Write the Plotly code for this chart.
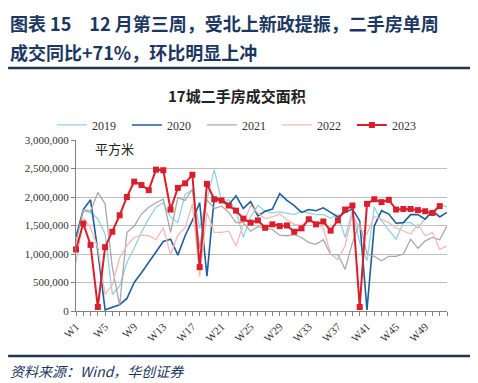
import plotly.graph_objects as go

weeks = list(range(1, 53))
tick_weeks = [1, 5, 9, 13, 17, 21, 25, 29, 33, 37, 41, 45, 49]
tick_labels = ["W%d" % w for w in tick_weeks]

s2019 = [1.30, 1.75, 1.73, 1.62, 1.35, 0.29, 0.44, 0.85, 1.10, 1.38, 1.62, 1.82, 1.90, 1.65,
         1.55, 2.05, 2.12, 1.45, 1.95, 2.48, 1.94, 1.95, 1.77, 1.29, 1.65, 1.85, 1.75, 1.72,
         1.74, 1.72, 1.69, 1.75, 1.72, 1.69, 1.69, 1.63, 1.69, 1.29, 1.76, 1.20, 0.88, 1.82,
         1.58, 1.43, 1.26, 1.55, 1.55, 1.46, 1.62, 1.73, 1.88, 1.82]
s2020 = [1.30, 1.78, 1.95, 1.05, 0.02, 0.06, 0.11, 0.22, 0.50, 0.67, 0.85, 1.02, 1.22, 1.26,
         0.98, 1.32, 1.59, 1.90, 0.61, 1.99, 1.95, 1.87, 2.02, 1.80, 1.92, 1.67, 1.75, 1.79,
         2.06, 1.94, 1.85, 1.73, 1.78, 1.76, 1.81, 1.73, 1.65, 1.73, 1.79, 1.58, 0.02, 1.49,
         1.76, 1.70, 1.54, 1.55, 1.69, 1.69, 1.61, 1.76, 1.65, 1.73]
s2021 = [1.20, 1.78, 1.75, 2.08, 1.88, 0.76, 0.10, 1.38, 1.49, 1.70, 1.82, 1.90, 1.96, 1.38,
         1.99, 1.94, 2.14, 1.10, 1.95, 1.80, 1.84, 1.73, 1.55, 1.55, 1.40, 1.48, 1.46, 1.43,
         1.33, 1.32, 1.34, 1.29, 1.20, 1.17, 1.25, 0.99, 0.99, 0.73, 1.20, 1.55, 1.00, 0.96,
         0.88, 0.96, 0.96, 1.00, 1.26, 1.10, 1.23, 1.29, 1.25, 1.49]
s2022 = [0.85, 1.64, 1.46, 1.11, 0.29, 0.46, 0.93, 1.15, 1.29, 1.33, 1.32, 1.25, 1.46, 0.99,
         1.33, 1.46, 1.88, 0.60, 1.73, 1.38, 1.38, 1.40, 1.14, 1.52, 1.85, 1.72, 1.62, 1.65,
         1.70, 1.60, 1.52, 1.50, 1.60, 1.55, 1.45, 1.00, 0.90, 1.15, 1.70, 1.45, 1.35, 1.66,
         1.61, 1.55, 1.46, 1.41, 1.35, 1.52, 1.32, 1.38, 1.08, 1.14]
s2023 = [1.08, 1.535, 1.16, 0.07, 1.12, 1.39, 1.68, 2.00, 2.27, 2.21, 2.12, 2.48, 2.47, 1.78,
         2.16, 2.24, 2.39, 0.77, 2.23, 1.96, 1.94, 1.85, 1.76, 1.62, 1.55, 1.59, 1.46, 1.52,
         1.49, 1.50, 1.39, 1.45, 1.61, 1.52, 1.57, 1.41, 1.59, 1.78, 1.85, 0.07, 1.88, 1.96,
         1.91, 1.95, 1.78, 1.79, 1.79, 1.77, 1.75, 1.72, 1.84]

MILLION = 1_000_000
series = [
    ("2019", s2019, "#96cfe2", 1.3),
    ("2020", s2020, "#1f5f9e", 1.6),
    ("2021", s2021, "#a8a8a8", 1.3),
    ("2022", s2022, "#f3b9b6", 1.3),
]

fig = go.Figure()
for name, vals, color, w in series:
    fig.add_trace(go.Scatter(
        x=weeks[:len(vals)], y=[v * MILLION for v in vals], name=name, mode="lines",
        line=dict(color=color, width=w), cliponaxis=False))
fig.add_trace(go.Scatter(
    x=weeks[:len(s2023)], y=[v * MILLION for v in s2023], name="2023", mode="lines+markers",
    line=dict(color="#d91f2b", width=2), marker=dict(symbol="square", size=6, color="#d91f2b"),
    cliponaxis=False))

serif = "Liberation Serif, Times New Roman, serif"
cjk = "Noto Sans CJK SC, sans-serif"
navy = "#1d3763"

fig.update_layout(
    width=478, height=383,
    margin=dict(l=68, r=39, t=132, b=80),
    paper_bgcolor="white", plot_bgcolor="white",
    font=dict(family=serif, size=11, color="#333333"),
    showlegend=True,
    legend=dict(orientation="h", x=-0.065, y=1.088, xanchor="left", yanchor="middle",
                font=dict(family=serif, size=12, color="#333333"),
                entrywidth=30, entrywidthmode="pixels", bgcolor="rgba(0,0,0,0)"),
    xaxis=dict(range=[1, 52], tickmode="array", tickvals=tick_weeks, ticktext=tick_labels,
               tickangle=-45, showgrid=False, zeroline=False, showline=True,
               linecolor="#7f7f7f", linewidth=1, ticks="outside", ticklen=4, tickcolor="#7f7f7f",
               minor=dict(ticks="outside", dtick=1, ticklen=4, tickcolor="#7f7f7f"),
               tickfont=dict(family=serif, size=11, color="#333333")),
    yaxis=dict(range=[0, 3_000_000], dtick=500_000, tickformat=",d", showgrid=True,
               gridcolor="#bfbfbf", gridwidth=1, zeroline=False, showline=True,
               linecolor="#7f7f7f", ticks="outside", ticklen=4, tickcolor="#7f7f7f",
               tickfont=dict(family=serif, size=11, color="#333333")),
    annotations=[
        dict(text="<b>图表 15　12 月第三周，受北上新政提振，二手房单周</b>", xref="paper", yref="paper",
             x=-0.183, y=1.684, xanchor="left", yanchor="middle", showarrow=False,
             font=dict(family=cjk, size=18, color=navy)),
        dict(text="<b>成交同比+71%，环比明显上冲</b>", xref="paper", yref="paper",
             x=-0.183, y=1.515, xanchor="left", yanchor="middle", showarrow=False,
             font=dict(family=cjk, size=18, color=navy)),
        dict(text="<b>17城二手房成交面积</b>", xref="paper", yref="paper",
             x=0.434, y=1.263, xanchor="center", yanchor="middle", showarrow=False,
             font=dict(family=cjk, size=15, color="#222222")),
        dict(text="平方米", xref="paper", yref="paper",
             x=0.046, y=0.953, xanchor="left", yanchor="middle", showarrow=False,
             font=dict(family=cjk, size=13, color="#222222")),
        dict(text="资料来源：Wind，华创证券", xref="paper", yref="paper",
             x=-0.183, y=-0.351, xanchor="left", yanchor="middle", showarrow=False,
             font=dict(family=cjk, size=14, color=navy, style="italic")),
    ],
    shapes=[
        dict(type="line", xref="paper", yref="paper", x0=-0.183, x1=1.078, y0=1.421, y1=1.421,
             line=dict(color="#1f3550", width=2.5)),
        dict(type="line", xref="paper", yref="paper", x0=-0.183, x1=1.078, y0=-0.263, y1=-0.263,
             line=dict(color="#1f3550", width=2.5)),
    ],
)

fig.write_html("out.html")
